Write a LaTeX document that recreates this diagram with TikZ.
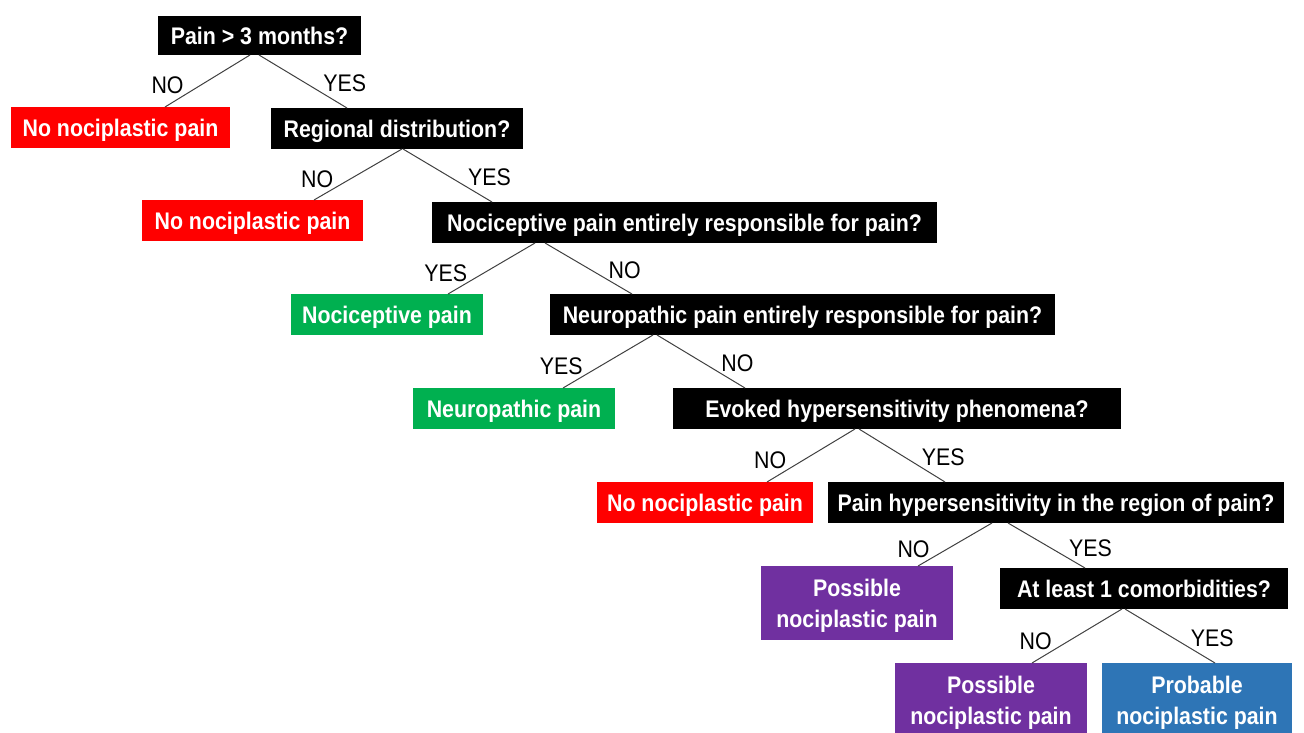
\documentclass[tikz,border=0pt]{standalone}
\usepackage{fontspec}
\setmainfont{Liberation Sans}[FakeStretch=0.89]
\usetikzlibrary{positioning}

\definecolor{excludedred}{HTML}{FF0000}
\definecolor{othergreen}{HTML}{00B050}
\definecolor{possiblepurple}{HTML}{7030A0}
\definecolor{probableblue}{HTML}{2E75B6}

\begin{document}
\begin{tikzpicture}[
		x=1pt, y=1pt,
		node distance=52pt,
		every node/.style={
				inner sep=4pt,
				outer sep=0pt,
				align=center
			},
		box/.style={
				text=white,
				font=\bfseries\fontsize{24}{31}\selectfont,
				text depth=0pt,
				minimum height=41pt
			},
		question/.style={box, fill=black},
		excluded/.style={box, fill=excludedred},
		othertype/.style={box, fill=othergreen},
		possible/.style={box, fill=possiblepurple, minimum height=74pt},
		probable/.style={box, fill=probableblue, minimum height=74pt},
		branch/.style={draw=black!75, line width=1pt},
		tagleft/.style={pos=.77, anchor=south east, inner sep=1pt, font=\fontsize{24}{28}\selectfont},
		tagright/.style={pos=.72, anchor=south west, inner sep=1pt, font=\fontsize{24}{28}\selectfont}
	]
	\useasboundingbox (0,0) rectangle (1304,-733);

	\node[question, minimum width=203pt, minimum height=39pt] (q1) at (259.5,-35.5) {Pain > 3 months?};
	\node[excluded, minimum width=219pt, below=52pt of q1, xshift=-139pt] (o1) {No nociplastic pain};
	\node[question, minimum width=252pt, below=53pt of q1, xshift=137.5pt] (q2) {Regional distribution?};
	\node[excluded, minimum width=221pt, below=51pt of q2, xshift=-144.5pt] (o2) {No nociplastic pain};
	\node[question, minimum width=505pt, below=53pt of q2, xshift=287.5pt] (q3) {Nociceptive pain entirely responsible for pain?};
	\node[othertype, minimum width=192pt, below=51pt of q3, xshift=-297.5pt] (o3) {Nociceptive pain};
	\node[question, minimum width=505pt, below=51pt of q3, xshift=118pt] (q4) {Neuropathic pain entirely responsible for pain?};
	\node[othertype, minimum width=202pt, below=53pt of q4, xshift=-288.5pt] (o4) {Neuropathic pain};
	\node[question, minimum width=448pt, below=53pt of q4, xshift=94.5pt] (q5) {Evoked hypersensitivity phenomena?};
	\node[excluded, minimum width=216pt, below=53pt of q5, xshift=-192pt] (o5) {No nociplastic pain};
	\node[question, minimum width=456pt, below=53pt of q5, xshift=159pt] (q6) {Pain hypersensitivity in the region of pain?};
	\node[possible, minimum width=192pt, below=43pt of q6, xshift=-199pt] (o6) {Possible\\nociplastic pain};
	\node[question, minimum width=288pt, below=45pt of q6, xshift=88pt] (q7) {At least 1 comorbidities?};
	\node[possible, minimum width=192pt, below=54pt of q7, xshift=-153pt] (o7) {Possible\\nociplastic pain};
	\node[probable, minimum width=190pt, below=54pt of q7, xshift=53pt] (o8) {Probable\\nociplastic pain};

	\draw[branch] ([xshift=-9.5pt]q1.south) -- node[tagleft] (a1) {NO} ([xshift=44.5pt]o1.north);
	\draw[branch] ([xshift=-0.5pt]q1.south) -- node[tagright] (a2) {YES} ([xshift=-50pt]q2.north);
	\draw[branch] ([xshift=5pt]q2.south) -- node[tagleft] (a3) {NO} ([xshift=61.5pt]o2.north);
	\draw[branch] ([xshift=6pt]q2.south) -- node[tagright] (a4) {YES} ([xshift=-192.5pt]q3.north);
	\draw[branch] ([xshift=-149.5pt]q3.south) -- node[tagleft] (a5) {YES} ([xshift=61pt]o3.north);
	\draw[branch] ([xshift=-139.5pt]q3.south) -- node[tagright] (a6) {NO} ([xshift=-170.5pt]q4.north);
	\draw[branch] ([xshift=-149.5pt]q4.south) -- node[tagleft] (a7) {YES} ([xshift=49pt]o4.north);
	\draw[branch] ([xshift=-145.5pt]q4.south) -- node[tagright] (a8) {NO} ([xshift=-152pt]q5.north);
	\draw[branch] ([xshift=-42pt]q5.south) -- node[tagleft] (a9) {NO} ([xshift=62pt]o5.north);
	\draw[branch] ([xshift=-38pt]q5.south) -- node[tagright] (a10) {YES} ([xshift=-111pt]q6.north);
	\draw[branch] ([xshift=-64pt]q6.south) -- node[tagleft, pos=.83] (a11) {NO} ([xshift=61pt]o6.north);
	\draw[branch] ([xshift=-48pt]q6.south) -- node[tagright, pos=.78] (a12) {YES} ([xshift=-59pt]q7.north);
	\draw[branch] ([xshift=-22pt]q7.south) -- node[tagleft] (a13) {NO} ([xshift=41pt]o7.north);
	\draw[branch] ([xshift=-19pt]q7.south) -- node[tagright] (a14) {YES} ([xshift=18pt]o8.north);
\end{tikzpicture}
\end{document}
